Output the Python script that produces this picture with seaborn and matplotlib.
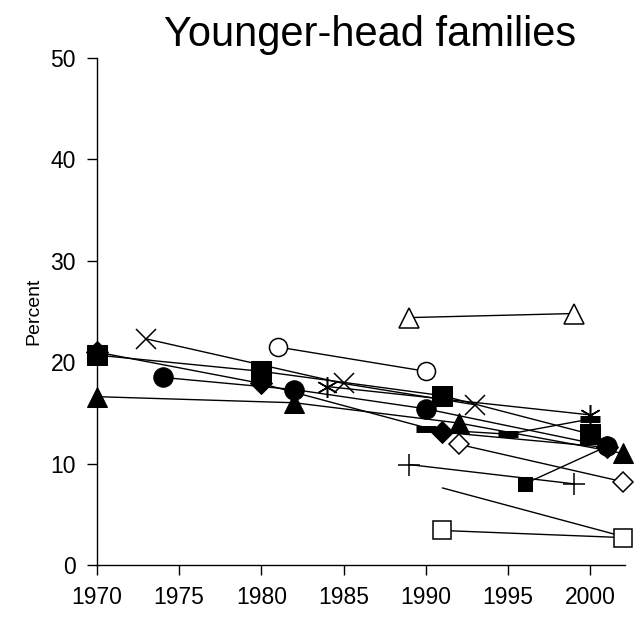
import matplotlib
matplotlib.use("Agg")
import matplotlib.pyplot as plt
import seaborn as sns
import pandas as pd

sns.set_theme(style="white")
plt.rcParams['font.family'] = ['Liberation Sans', 'DejaVu Sans']
plt.rcParams['text.color'] = 'black'
plt.rcParams['axes.labelcolor'] = 'black'
plt.rcParams['xtick.color'] = 'black'
plt.rcParams['ytick.color'] = 'black'

# ---- data (year, percent) per series ----
sq_years = [1970, 1980, 1991, 2000]
sq_vals = [20.7, 19.1, 16.7, 12.9]

circ_years = [1974, 1982, 1990, 2001]
circ_vals = [18.5, 17.3, 15.4, 11.7]

tri_years = [1970, 1982, 1992, 2002]
tri_vals = [16.6, 16.0, 14.0, 11.0]

dia_years = [1970, 1980, 1991, 2001]
dia_vals = [21.0, 17.9, 13.1, 11.6]

dash_years = [1990, 1995, 2000]
dash_vals = [13.4, 12.9, 14.4]

x_years = [1973, 1985, 1993]
x_vals = [22.3, 17.9, 15.8]

ast_years = [1984, 2000]
ast_vals = [17.6, 14.8]

ocirc_years = [1981, 1990]
ocirc_vals = [21.5, 19.1]

otri_years = [1989, 1999]
otri_vals = [24.4, 24.8]

plus_years = [1989, 1999]
plus_vals = [9.9, 8.0]

odia_years = [1992, 2002]
odia_vals = [11.9, 8.2]

osq_years = [1991, 2002]
osq_vals = [3.4, 2.7]

ssq_years = [1996, 2001]
ssq_vals = [8.0, 11.7]

plain_years = [1991, 2002]
plain_vals = [7.6, 2.8]

x_ticks = [1970, 1975, 1980, 1985, 1990, 1995, 2000]
y_ticks = [0, 10, 20, 30, 40, 50]

series = [
    (plain_years, plain_vals, dict(marker=None)),
    (ocirc_years, ocirc_vals, dict(marker='o', markersize=13, markerfacecolor='white', markeredgewidth=1.1)),
    (otri_years, otri_vals, dict(marker='^', markersize=14, markerfacecolor='white', markeredgewidth=1.1)),
    (odia_years, odia_vals, dict(marker='D', markersize=10, markerfacecolor='white', markeredgewidth=1.1)),
    (osq_years, osq_vals, dict(marker='s', markersize=13, markerfacecolor='white', markeredgewidth=1.1)),
    (plus_years, plus_vals, dict(marker='+', markersize=16, markeredgewidth=1.1)),
    (x_years, x_vals, dict(marker='x', markersize=14, markeredgewidth=1.1)),
    (ast_years, ast_vals, dict(marker=(6, 2, 0), markersize=15, markeredgewidth=1.1)),
    (dash_years, dash_vals, dict(marker='_', markersize=15, markeredgewidth=5)),
    (dia_years, dia_vals, dict(marker='D', markersize=11, markerfacecolor='black')),
    (tri_years, tri_vals, dict(marker='^', markersize=14, markerfacecolor='black')),
    (circ_years, circ_vals, dict(marker='o', markersize=14, markerfacecolor='black')),
    (ssq_years, ssq_vals, dict(marker='s', markersize=10, markerfacecolor='black')),
    (sq_years, sq_vals, dict(marker='s', markersize=14, markerfacecolor='black')),
]

fig = plt.figure(figsize=(6.35, 6.24), dpi=100)
ax = fig.add_axes([0.1524, 0.0946, 0.8319, 0.8124])

for yrs, vals, style in series:
    df = pd.DataFrame({'year': yrs, 'pct': vals})
    kw = dict(color='black', linewidth=1.0, markeredgecolor='black')
    kw.update(style)
    if kw.get('marker') is None:
        kw.pop('marker')
        kw.pop('markeredgecolor')
    sns.lineplot(data=df, x='year', y='pct', ax=ax, sort=False, **kw)

ax.set_xlim(1970, 2002.1)
ax.set_ylim(0, 50)
ax.set_xticks(x_ticks)
ax.set_yticks(y_ticks)
ax.set_xticklabels([str(t) for t in x_ticks], fontsize=16.5)
ax.set_yticklabels([str(t) for t in y_ticks], fontsize=16.5)
ax.set_xlabel('')
ax.set_ylabel('Percent', fontsize=14, labelpad=6)
for s in ['top', 'right']:
    ax.spines[s].set_visible(False)
for s in ['left', 'bottom']:
    ax.spines[s].set_color('black')
    ax.spines[s].set_linewidth(1.0)
ax.tick_params(axis='both', direction='out', length=7, width=1.0, color='black',
               left=True, bottom=True, pad=8)
ax.set_title('Younger-head families', fontsize=30, pad=9, x=0.517)
for sp in ax.spines.values():
    sp.set_zorder(0)
for ln in ax.lines:
    ln.set_clip_on(False)

fig.savefig('out.png', dpi=100)
